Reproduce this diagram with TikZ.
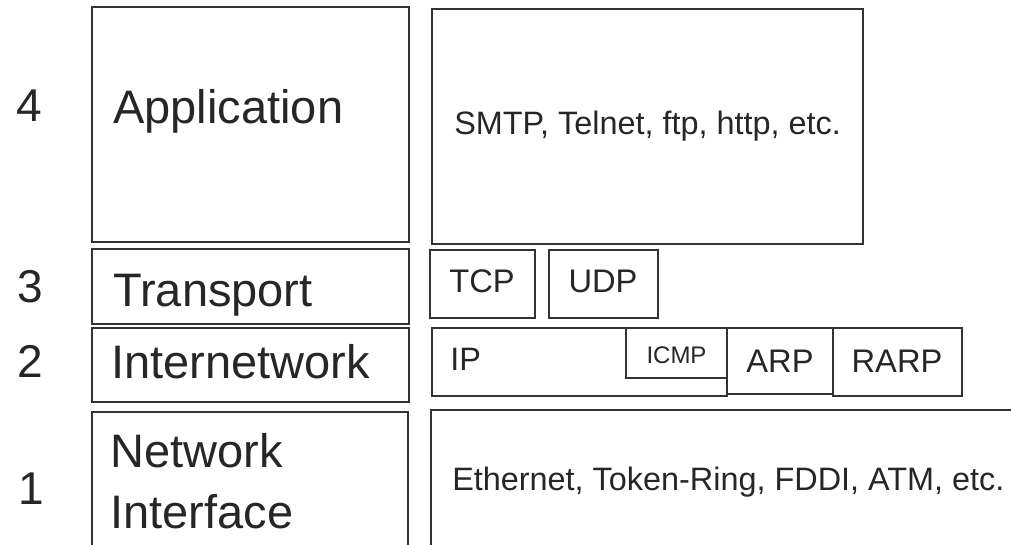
\documentclass[tikz,border=0pt]{standalone}
\usepackage{fontspec}
\setmainfont{Liberation Sans}
\definecolor{linec}{HTML}{333333}
\definecolor{textc}{HTML}{262626}
\tikzset{
  boxline/.style={draw=linec, line width=1.1pt},
  big/.style={inner sep=0pt, anchor=base west, text=textc, font=\fontsize{35.25pt}{40pt}\selectfont},
  num/.style={inner sep=0pt, anchor=base, text=textc, font=\fontsize{34.5pt}{40pt}\selectfont},
  small/.style={inner sep=0pt, anchor=base west, text=textc, font=\fontsize{24.3pt}{28pt}\selectfont},
  smallc/.style={inner sep=0pt, anchor=base, text=textc, font=\fontsize{24.5pt}{28pt}\selectfont},
  tiny/.style={inner sep=0pt, anchor=base, text=textc, font=\fontsize{18pt}{22pt}\selectfont}
}
\begin{document}
\begin{tikzpicture}[x=0.75pt,y=-0.75pt]
\useasboundingbox (0,0) rectangle (1011,544);
\clip (0,0) rectangle (1011,544);
% left layer boxes
\draw[boxline] (92,7) rectangle (409,242);
\draw[boxline] (92,249) rectangle (409,324);
\draw[boxline] (92,328) rectangle (409,402);
\draw[boxline] (92,412) rectangle (408,560);
% right protocol boxes
\draw[boxline] (432,9) rectangle (863,244);
\draw[boxline] (430,250) rectangle (535,318);
\draw[boxline] (549,250) rectangle (658,318);
\draw[boxline] (432,328) rectangle (727,396);
\draw[boxline] (626,328) rectangle (727,378);
\draw[boxline] (727,328) rectangle (833,394);
\draw[boxline] (833,328) rectangle (962,396);
\draw[boxline] (431,410) rectangle (1030,560);
% layer numbers
\node[num] (n4) at (29,121) {4};
\node[num] (n3) at (30,302) {3};
\node[num] (n2) at (30,377) {2};
\node[num] (n1) at (31,504) {1};
% layer names
\node[big] (app) at (113,123) {Application};
\node[big] (tra) at (113,306) {Transport};
\node[big] (inet) at (111,378) {Internetwork};
\node[big] (net) at (110,467) {Network};
\node[big] (intf) at (110,528) {Interface};
% protocols
\node[small] (smtp) at (454,134) {SMTP, Telnet, ftp, http, etc.};
\node[smallc] (tcp) at (482,292) {TCP};
\node[smallc] (udp) at (603,292) {UDP};
\node[small] (ip) at (450,370) {IP};
\node[tiny] (icmp) at (676.5,363) {ICMP};
\node[smallc] (arp) at (780,372) {ARP};
\node[smallc] (rarp) at (897,372) {RARP};
\node[small] (eth) at (452,490) {Ethernet, Token-Ring, FDDI, ATM, etc.};
\end{tikzpicture}
\end{document}
